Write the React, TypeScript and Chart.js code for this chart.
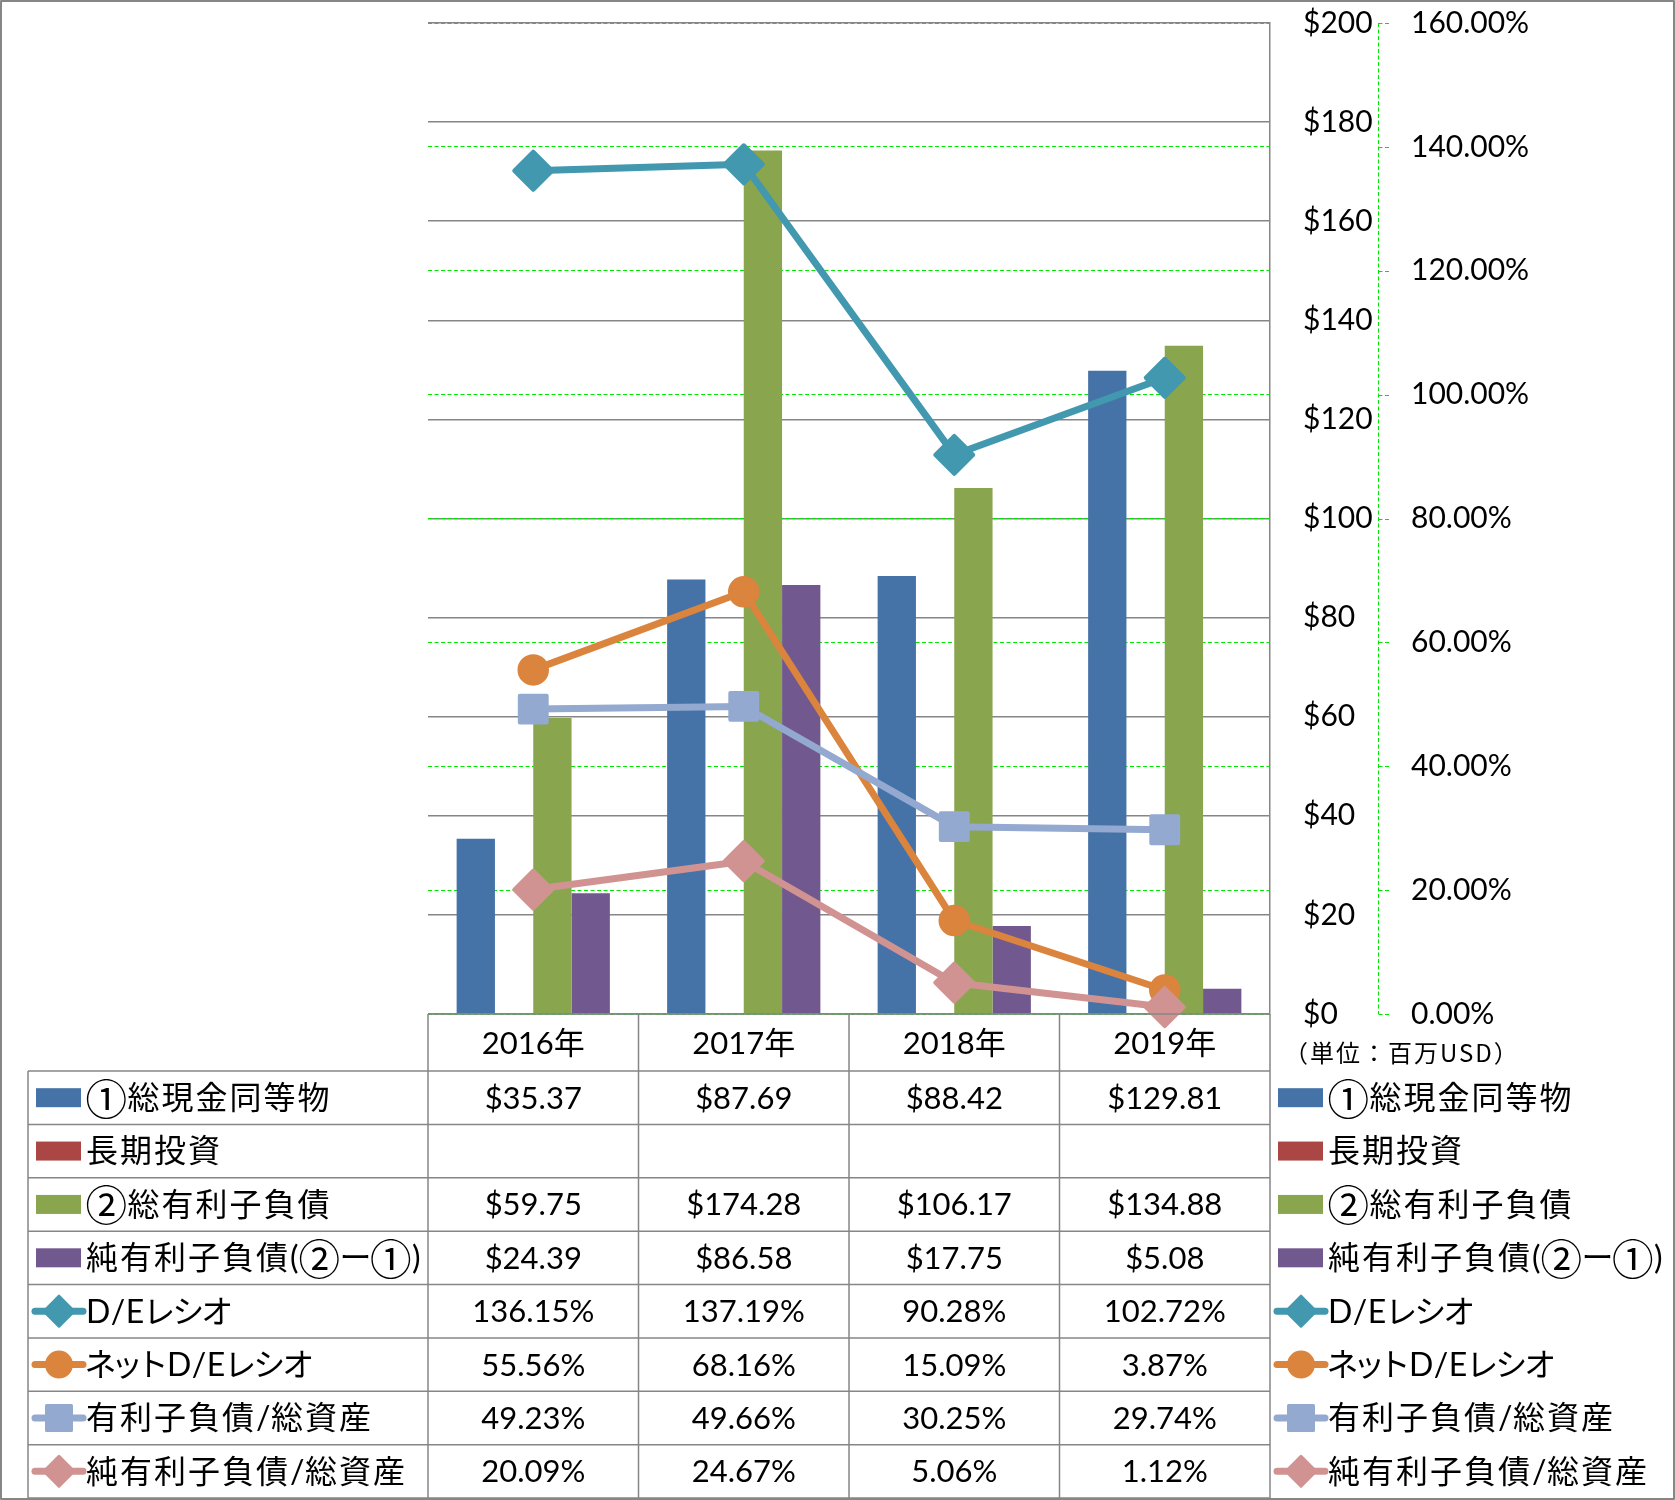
import React, { useEffect, useRef } from 'react';
import { Chart, registerables } from 'chart.js';

Chart.register(...registerables);

// ---------------- data ----------------
const categories = ['2016年', '2017年', '2018年', '2019年'];
const seriesLabels = [
  '①総現金同等物',
  '長期投資',
  '②総有利子負債',
  '純有利子負債(②ー①)',
  'D/Eレシオ',
  'ネットD/Eレシオ',
  '有利子負債/総資産',
  '純有利子負債/総資産',
];
const cashEquivalents = [35.37, 87.69, 88.42, 129.81];
const longTermInvestments: (number | null)[] = [null, null, null, null];
const totalDebt = [59.75, 174.28, 106.17, 134.88];
const netDebt = [24.39, 86.58, 17.75, 5.08];
const deRatio = [136.15, 137.19, 90.28, 102.72];
const netDeRatio = [55.56, 68.16, 15.09, 3.87];
const debtToAssets = [49.23, 49.66, 30.25, 29.74];
const netDebtToAssets = [20.09, 24.67, 5.06, 1.12];
const unitLabel = '（単位：百万USD）';

// ---------------- styles ----------------
const C_BLUE = '#4572A7';
const C_RED = '#AA4643';
const C_GREEN = '#89A54E';
const C_PURPLE = '#71588F';
const C_TEAL = '#4198AF';
const C_ORANGE = '#DB843D';
const C_LIGHTBLUE = '#93A9CF';
const C_PINK = '#D19392';
const GRID_GRAY = '#868686';
const DASH_GREEN = '#00e600';
const FONT = 'Lato, "Noto Sans CJK JP", sans-serif';
const TRANSPARENT = 'rgba(0,0,0,0)';

type RowDef = {
  label: string;
  values: (number | null)[];
  fmt: 'usd' | 'pct';
  color: string;
  kind: 'bar' | 'line';
  marker?: 'rectRot' | 'circle' | 'rect';
};

const rows: RowDef[] = [
  { label: seriesLabels[0], values: cashEquivalents, fmt: 'usd', color: C_BLUE, kind: 'bar' },
  { label: seriesLabels[1], values: longTermInvestments, fmt: 'usd', color: C_RED, kind: 'bar' },
  { label: seriesLabels[2], values: totalDebt, fmt: 'usd', color: C_GREEN, kind: 'bar' },
  { label: seriesLabels[3], values: netDebt, fmt: 'usd', color: C_PURPLE, kind: 'bar' },
  { label: seriesLabels[4], values: deRatio, fmt: 'pct', color: C_TEAL, kind: 'line', marker: 'rectRot' },
  { label: seriesLabels[5], values: netDeRatio, fmt: 'pct', color: C_ORANGE, kind: 'line', marker: 'circle' },
  { label: seriesLabels[6], values: debtToAssets, fmt: 'pct', color: C_LIGHTBLUE, kind: 'line', marker: 'rect' },
  { label: seriesLabels[7], values: netDebtToAssets, fmt: 'pct', color: C_PINK, kind: 'line', marker: 'rectRot' },
];

function fmtValue(v: number | null, fmt: 'usd' | 'pct') {
  if (v === null || v === undefined) return '';
  return fmt === 'usd' ? '$' + v.toFixed(2) : v.toFixed(2) + '%';
}

// circled digits are drawn larger so the circle is about as tall as the kanji
const CIRCLED = /[\u2460-\u2473]/;
const SMALL_KANA = /[\u30A1\u30A3\u30A5\u30A7\u30A9\u30C3\u30E3\u30E5\u30E7]/;
const CIRC_FAMILY = '"Noto Sans CJK JP", "DejaVu Sans"';
const CIRC_SCALE = 1.3;

function drawLabel(ctx: CanvasRenderingContext2D, text: string, x: number, y: number, size: number) {
  ctx.save();
  ctx.fillStyle = '#000';
  ctx.textAlign = 'left';
  let cx = x;
  for (const ch of Array.from(text)) {
    const code = ch.charCodeAt(0);
    if (CIRCLED.test(ch)) {
      ctx.font = `${size * CIRC_SCALE}px ${CIRC_FAMILY}`;
      ctx.textBaseline = 'alphabetic';
      const m = ctx.measureText(ch);
      const l = m.actualBoundingBoxLeft || 0;
      const ink = l + (m.actualBoundingBoxRight || m.width);
      const asc = m.actualBoundingBoxAscent || 0;
      const desc = m.actualBoundingBoxDescent || 0;
      ctx.fillText(ch, cx + l + 0.5, y + (asc - desc) / 2);
      cx += ink + 1.5;
    } else {
      ctx.font = `${size}px ${FONT}`;
      ctx.textBaseline = 'middle';
      const w = ctx.measureText(ch).width;
      if (code === 0x30fc) {
        // long vowel mark, slightly condensed
        ctx.fillText(ch, cx - 1, y);
        cx += w - 2;
        continue;
      }
      if (code >= 0x30a0 && code <= 0x30ff) {
        // proportional-looking katakana
        const small = SMALL_KANA.test(ch);
        const shrink = small ? 9 : 3;
        ctx.fillText(ch, cx - (small ? 4 : 1.5), y);
        cx += w - shrink;
        continue;
      }
      ctx.fillText(ch, cx, y);
      cx += code > 0x2000 ? w + 2 : w + 0.5;
    }
  }
  ctx.restore();
}

function drawMarker(ctx: CanvasRenderingContext2D, style: string, x: number, y: number, size: number, color: string) {
  ctx.save();
  ctx.fillStyle = color;
  ctx.strokeStyle = color;
  ctx.lineWidth = 3;
  ctx.lineJoin = 'round';
  ctx.beginPath();
  if (style === 'rectRot') {
    ctx.moveTo(x - size, y);
    ctx.lineTo(x, y - size);
    ctx.lineTo(x + size, y);
    ctx.lineTo(x, y + size);
    ctx.closePath();
  } else if (style === 'circle') {
    ctx.arc(x, y, size, 0, Math.PI * 2);
  } else {
    ctx.rect(x - size, y - size, size * 2, size * 2);
  }
  ctx.fill();
  ctx.stroke();
  ctx.restore();
}

function drawLegendItem(ctx: CanvasRenderingContext2D, row: RowDef, x0: number, yc: number) {
  if (row.kind === 'bar') {
    ctx.fillStyle = row.color;
    ctx.fillRect(x0 + 3, yc - 9.5, 45, 19);
  } else {
    ctx.save();
    ctx.strokeStyle = row.color;
    ctx.lineWidth = 7;
    ctx.lineCap = 'round';
    ctx.beginPath();
    ctx.moveTo(x0 + 2, yc);
    ctx.lineTo(x0 + 50, yc);
    ctx.stroke();
    ctx.restore();
    const s = row.marker === 'rectRot' ? 15 : 12.5;
    drawMarker(ctx, row.marker || 'circle', x0 + 26, yc, s, row.color);
  }
  drawLabel(ctx, row.label, x0 + 53, yc + 1, 32);
}

const tablePlugin = {
  id: 'dataTable',
  beforeDatasetsDraw(chart: any) {
    chart.ctx.lineJoin = 'round';
  },
  afterDraw(chart: any) {
    const ctx: CanvasRenderingContext2D = chart.ctx;
    const area = chart.chartArea;
    const xs = chart.scales.x;
    const y1 = chart.scales.y1;
    const n = categories.length;
    const colW = (area.right - area.left) / n;
    const bounds: number[] = [];
    for (let i = 0; i < n; i++) bounds.push(xs.getPixelForValue(i) - colW / 2);
    bounds.push(xs.getPixelForValue(n - 1) + colW / 2);

    const headerTop = area.bottom;
    const headerBottom = headerTop + 57;
    const tableBottom = 1498;
    const rh = (tableBottom - headerBottom) / rows.length;
    const tableLeft = 28;

    ctx.save();
    // secondary axis dashed line and its tick marks
    ctx.strokeStyle = DASH_GREEN;
    ctx.lineWidth = 1;
    ctx.setLineDash([4, 2.5]);
    const ax = Math.round(y1.left) + 0.5;
    ctx.beginPath();
    ctx.moveTo(ax, area.top);
    ctx.lineTo(ax, area.bottom);
    for (const t of y1.ticks) {
      const ty = Math.round(y1.getPixelForValue(t.value)) + 0.5;
      ctx.moveTo(ax, ty);
      ctx.lineTo(ax + 11, ty);
    }
    ctx.stroke();
    ctx.setLineDash([]);

    // table lines
    ctx.strokeStyle = GRID_GRAY;
    ctx.lineWidth = 1.5;
    ctx.beginPath();
    for (const b of bounds) {
      ctx.moveTo(b, headerTop);
      ctx.lineTo(b, tableBottom);
    }
    ctx.moveTo(tableLeft, headerBottom);
    ctx.lineTo(tableLeft, tableBottom);
    ctx.moveTo(bounds[0], headerTop);
    ctx.lineTo(bounds[n], headerTop);
    for (let k = 0; k <= rows.length; k++) {
      const yy = headerBottom + k * rh;
      ctx.moveTo(tableLeft, yy);
      ctx.lineTo(bounds[n], yy);
    }
    ctx.stroke();

    // header
    ctx.fillStyle = '#000';
    ctx.textAlign = 'center';
    ctx.textBaseline = 'middle';
    ctx.font = `31px ${FONT}`;
    for (let i = 0; i < n; i++) {
      ctx.fillText(categories[i], xs.getPixelForValue(i), (headerTop + headerBottom) / 2 + 1);
    }
    // values
    rows.forEach((row, k) => {
      const yc = headerBottom + (k + 0.5) * rh + 1;
      for (let i = 0; i < n; i++) {
        ctx.fillText(fmtValue(row.values[i], row.fmt), xs.getPixelForValue(i), yc);
      }
    });
    ctx.restore();

    // legends (left in table, right side)
    rows.forEach((row, k) => {
      const yc = headerBottom + (k + 0.5) * rh;
      drawLegendItem(ctx, row, 33, yc);
      drawLegendItem(ctx, row, 1275, yc);
    });

    // unit label
    ctx.save();
    ctx.fillStyle = '#000';
    ctx.font = `24px "Noto Sans CJK JP", ${FONT}`;
    (ctx as any).letterSpacing = '2px';
    ctx.textAlign = 'left';
    ctx.textBaseline = 'middle';
    ctx.fillText(unitLabel, 1284, 1053);
    ctx.restore();

    // outer border
    ctx.save();
    ctx.strokeStyle = GRID_GRAY;
    ctx.lineWidth = 2;
    ctx.strokeRect(1, 1, chart.width - 2, chart.height - 2);
    ctx.restore();
  },
};

export default function App() {
  const ref = useRef<HTMLCanvasElement>(null);
  useEffect(() => {
    document.body.style.margin = '0';
    const canvas = ref.current;
    if (!canvas) return;
    const lineDs = (label: string, data: number[], color: string, style: string, radius: number, bw: number, order: number) => ({
      type: 'line' as const,
      label,
      data,
      yAxisID: 'y1',
      borderColor: color,
      backgroundColor: color,
      borderWidth: 7,
      borderJoinStyle: 'round' as const,
      borderCapStyle: 'round' as const,
      pointStyle: style,
      pointRadius: radius,
      pointBorderWidth: bw,
      pointBackgroundColor: color,
      pointBorderColor: color,
      tension: 0,
      clip: false as any,
      order,
    });
    const barDs = (label: string, data: (number | null)[], color: string) => ({
      type: 'bar' as const,
      label,
      data,
      yAxisID: 'y',
      backgroundColor: color,
      borderWidth: 0,
      categoryPercentage: 0.728,
      barPercentage: 1.0,
      order: 10,
    });
    const chart = new Chart(canvas, {
      type: 'bar',
      data: {
        labels: categories,
        datasets: [
          barDs(seriesLabels[0], cashEquivalents, C_BLUE),
          barDs(seriesLabels[1], longTermInvestments, C_RED),
          barDs(seriesLabels[2], totalDebt, C_GREEN),
          barDs(seriesLabels[3], netDebt, C_PURPLE),
          lineDs(seriesLabels[4], deRatio, C_TEAL, 'rectRot', 19, 4, 4),
          lineDs(seriesLabels[5], netDeRatio, C_ORANGE, 'circle', 14, 3.5, 3),
          lineDs(seriesLabels[6], debtToAssets, C_LIGHTBLUE, 'rect', 19, 4, 2),
          lineDs(seriesLabels[7], netDebtToAssets, C_PINK, 'rectRot', 19, 4, 1),
        ] as any,
      },
      options: {
        responsive: false,
        animation: false,
        devicePixelRatio: 1,
        layout: { padding: { left: 428, top: 21, right: 0, bottom: 486 } },
        plugins: {
          legend: { display: false },
          tooltip: { enabled: false },
        },
        scales: {
          x: {
            display: false,
            offset: true,
          },
          y: {
            type: 'linear',
            position: 'right',
            weight: 0,
            z: 0,
            min: 0,
            max: 200,
            ticks: {
              stepSize: 20,
              padding: 0,
              color: '#000',
              font: { family: FONT, size: 30 },
              callback: (v: any) => '$' + v,
            },
            grid: {
              color: GRID_GRAY,
              lineWidth: 1.5,
              drawTicks: true,
              tickLength: 33,
              tickColor: TRANSPARENT,
              tickWidth: 0,
            },
            border: { display: true, color: GRID_GRAY, width: 1.5 },
            afterFit: (s: any) => {
              s.width = 108;
            },
          },
          y1: {
            type: 'linear',
            position: 'right',
            weight: 1,
            z: -1,
            min: 0,
            max: 160,
            ticks: {
              stepSize: 20,
              padding: 0,
              color: '#000',
              font: { family: FONT, size: 30 },
              callback: (v: any) => Number(v).toFixed(2) + '%',
            },
            grid: {
              color: DASH_GREEN,
              lineWidth: 1,
              drawTicks: true,
              tickLength: 33,
              tickColor: TRANSPARENT,
              tickWidth: 0,
            },
            border: { display: false, dash: [4, 2.5] },
            afterFit: (s: any) => {
              s.width = 297;
            },
          },
        },
      } as any,
      plugins: [tablePlugin],
    });
    return () => chart.destroy();
  }, []);
  return (
    <div style={{ position: 'absolute', left: 0, top: 0, width: 1675, height: 1500, background: '#fff' }}>
      <canvas ref={ref} width={1675} height={1500} style={{ display: 'block', width: 1675, height: 1500 }} />
    </div>
  );
}
